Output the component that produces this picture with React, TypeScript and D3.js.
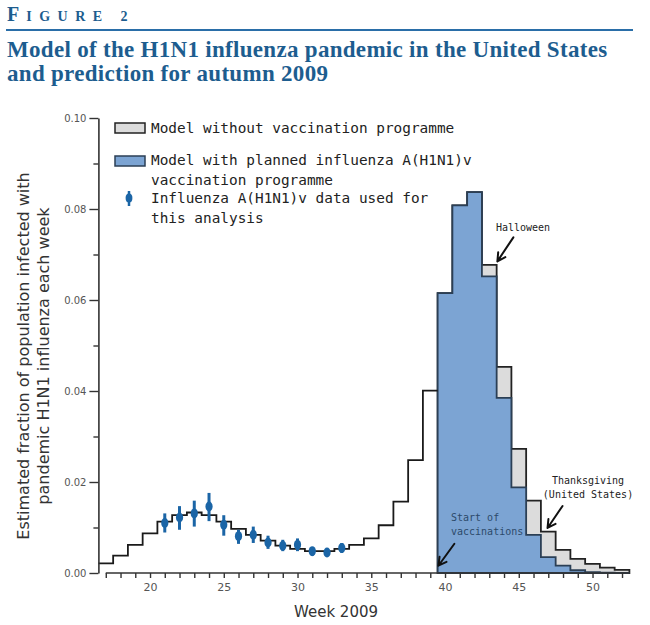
import { useEffect, useRef } from 'react';
import * as d3 from 'd3';

// weekly model output, weeks 17-52 of 2009
const weeks = [17, 18, 19, 20, 21, 22, 23, 24, 25, 26, 27, 28, 29, 30, 31, 32, 33, 34, 35, 36, 37, 38, 39, 40, 41, 42, 43, 44, 45, 46, 47, 48, 49, 50, 51, 52];
const noVaccination = [
  0.0021, 0.0038, 0.0062, 0.0087, 0.0113, 0.0127, 0.0133, 0.0127, 0.0113, 0.0097, 0.0084, 0.0071,
  0.006, 0.0053, 0.0048, 0.0048, 0.0053, 0.0062, 0.0076, 0.0105, 0.0157, 0.0248, 0.0401, 0.0615,
  0.0808, 0.0837, 0.0677, 0.0453, 0.0273, 0.0159, 0.0091, 0.0051, 0.0031, 0.002, 0.0012, 0.0007,
];
const vaccinationWeeks = [40, 41, 42, 43, 44, 45, 46, 47, 48, 49, 50, 51, 52];
const withVaccination = [0.0615, 0.0808, 0.0837, 0.0652, 0.0385, 0.0188, 0.0084, 0.0035, 0.0016, 0.0006, 0.0002, 0.0001, 0];

// surveillance data with error bars
const dataWeeks = [21, 22, 23, 24, 25, 26, 27, 28, 29, 30, 31, 32, 33];
const dataValues = [0.011, 0.0122, 0.0131, 0.0146, 0.0106, 0.0081, 0.0084, 0.0067, 0.006, 0.0062, 0.0048, 0.0045, 0.0055];
const dataLow = [0.0089, 0.0095, 0.0102, 0.0114, 0.0082, 0.0064, 0.0066, 0.0053, 0.0048, 0.0048, 0.0038, 0.0037, 0.0044];
const dataHigh = [0.0131, 0.0147, 0.0159, 0.0176, 0.0127, 0.0095, 0.0102, 0.0082, 0.0073, 0.0076, 0.0056, 0.0053, 0.0066];

const yMajorTicks = [0, 0.02, 0.04, 0.06, 0.08, 0.1];
const yMinorTicks = [0.01, 0.03, 0.05, 0.07, 0.09];
const xLabelTicks = [20, 25, 30, 35, 40, 45, 50];

const BLUE = '#1d5d8f';
const MONO = '"DejaVu Sans Mono", monospace';
const SANS = '"DejaVu Sans", sans-serif';
const SERIF = '"Liberation Serif", serif';

export default function App() {
  const svgRef = useRef<SVGSVGElement>(null);

  useEffect(() => {
    if (!svgRef.current) return;
    const svg = d3.select(svgRef.current);
    svg.selectAll('*').remove();

    // Header
    const fig = svg.append('text')
      .attr('x', 7).attr('y', 21)
      .attr('fill', BLUE)
      .style('font-family', SERIF)
      .style('font-weight', 'bold');
    fig.append('tspan').attr('font-size', 20).attr('letter-spacing', 7).text('F');
    fig.append('tspan').attr('font-size', 14).attr('letter-spacing', 7.5).text('IGURE 2');

    svg.append('line')
      .attr('x1', 6).attr('x2', 633).attr('y1', 30).attr('y2', 30)
      .attr('stroke', '#2a6ea8').attr('stroke-width', 2);

    ['Model of the H1N1 influenza pandemic in the United States', 'and prediction for autumn 2009'].forEach((t, i) => {
      svg.append('text')
        .attr('x', 7).attr('y', 57 + i * 24)
        .attr('fill', BLUE)
        .style('font-family', SERIF)
        .style('font-weight', 'bold')
        .style('font-size', '23px')
        .style('letter-spacing', '0.3px')
        .text(t);
    });

    const x = d3.scaleLinear().domain([16.5, 52.5]).range([98.4, 629.4]);
    const y = d3.scaleLinear().domain([0, 0.1]).range([573, 118]);

    const steps = (ws: number[], vs: number[]) =>
      ws.flatMap((w, i) => [[w - 0.5, vs[i]], [w + 0.5, vs[i]]] as [number, number][]);

    const area = d3.area<[number, number]>()
      .x((d) => x(d[0]))
      .y0(y(0))
      .y1((d) => y(d[1]));
    const line = d3.line<[number, number]>()
      .x((d) => x(d[0]))
      .y((d) => y(d[1]));

    // Model without vaccination from week 40 (grey), with vaccination on top (blue)
    const lateWeeks = weeks.filter((w) => w >= 40);
    const lateNoVacc = noVaccination.filter((_, i) => weeks[i] >= 40);
    svg.append('path')
      .attr('d', area(steps(lateWeeks, lateNoVacc)))
      .attr('fill', '#dcdcdc')
      .attr('stroke', '#222')
      .attr('stroke-width', 1.8);

    svg.append('path')
      .attr('d', area(steps(vaccinationWeeks, withVaccination)))
      .attr('fill', '#7ca4d3')
      .attr('stroke', '#2b3f55')
      .attr('stroke-width', 1.8);

    const earlyWeeks = weeks.filter((w) => w < 40);
    const earlyVals = noVaccination.filter((_, i) => weeks[i] < 40);
    svg.append('path')
      .attr('d', line(steps(earlyWeeks, earlyVals)))
      .attr('fill', 'none')
      .attr('stroke', '#1a1a1a')
      .attr('stroke-width', 1.8);

    // Axes
    const yAxis = svg.append('g')
      .attr('transform', `translate(${x(16.5)},0)`)
      .call(d3.axisLeft(y).tickValues(yMajorTicks).tickSize(9).tickPadding(3).tickSizeOuter(0).tickFormat(d3.format('.2f')));
    yAxis.select('.domain').attr('stroke', '#333').attr('stroke-width', 1.6);
    yAxis.selectAll('line').attr('stroke', '#333').attr('stroke-width', 1.4);
    yAxis.selectAll('text').attr('fill', '#555').style('font-family', SANS).style('font-size', '10px');

    const yMinor = svg.append('g')
      .attr('transform', `translate(${x(16.5)},0)`)
      .call(d3.axisLeft(y).tickValues(yMinorTicks).tickSize(5).tickFormat(() => ''));
    yMinor.select('.domain').remove();
    yMinor.selectAll('line').attr('stroke', '#333').attr('stroke-width', 1.4);

    const xAxis = svg.append('g')
      .attr('transform', `translate(0,${y(0)})`)
      .call(
        d3.axisBottom(x)
          .tickValues(weeks)
          .tickSize(5)
          .tickPadding(5)
          .tickFormat((d) => (xLabelTicks.includes(d as number) ? String(d) : ''))
      );
    xAxis.select('.domain').remove();
    xAxis.selectAll('line').attr('stroke', '#333').attr('stroke-width', 1.4);
    xAxis.selectAll('text').attr('fill', '#555').style('font-family', SANS).style('font-size', '11px');
    svg.append('line')
      .attr('x1', x(17)).attr('x2', x(52.5))
      .attr('y1', y(0)).attr('y2', y(0))
      .attr('stroke', '#333').attr('stroke-width', 1.6);

    svg.append('text')
      .attr('x', 336).attr('y', 617)
      .attr('text-anchor', 'middle')
      .attr('fill', '#333')
      .style('font-family', SANS)
      .style('font-size', '15px')
      .text('Week 2009');

    ['Estimated fraction of population infected with', 'pandemic H1N1 influenza each week'].forEach((t, i) => {
      svg.append('text')
        .attr('transform', `translate(${29 + i * 20},356) rotate(-90)`)
        .attr('text-anchor', 'middle')
        .attr('fill', '#333')
        .style('font-family', SANS)
        .style('font-size', '16px')
        .text(t);
    });

    // Data points with error bars
    const pts = svg.append('g');
    dataWeeks.forEach((w, i) => {
      pts.append('line')
        .attr('x1', x(w)).attr('x2', x(w))
        .attr('y1', y(dataLow[i])).attr('y2', y(dataHigh[i]))
        .attr('stroke', '#1b65a6').attr('stroke-width', 3);
      pts.append('ellipse')
        .attr('cx', x(w)).attr('cy', y(dataValues[i]))
        .attr('rx', 3.6).attr('ry', 5)
        .attr('fill', '#1b65a6');
    });

    // Legend
    const lg = svg.append('g').style('font-family', MONO).style('font-size', '14.4px').attr('fill', '#222');
    lg.append('rect').attr('x', 115).attr('y', 123).attr('width', 30).attr('height', 10)
      .attr('fill', '#dcdcdc').attr('stroke', '#222').attr('stroke-width', 1.5);
    lg.append('text').attr('x', 151).attr('y', 133).text('Model without vaccination programme');
    lg.append('rect').attr('x', 115).attr('y', 156).attr('width', 30).attr('height', 10)
      .attr('fill', '#7ca4d3').attr('stroke', '#2b3f55').attr('stroke-width', 1.5);
    lg.append('text').attr('x', 151).attr('y', 165).text('Model with planned influenza A(H1N1)v');
    lg.append('text').attr('x', 151).attr('y', 185).text('vaccination programme');
    lg.append('line').attr('x1', 129).attr('x2', 129).attr('y1', 191).attr('y2', 206)
      .attr('stroke', '#1b65a6').attr('stroke-width', 2.5);
    lg.append('ellipse').attr('cx', 129).attr('cy', 198).attr('rx', 3.4).attr('ry', 4.6).attr('fill', '#1b65a6');
    lg.append('text').attr('x', 151).attr('y', 203).text('Influenza A(H1N1)v data used for');
    lg.append('text').attr('x', 151).attr('y', 223).text('this analysis');

    // Annotations
    const arrow = (tx: number, ty: number, dx: number, dy: number) => {
      const len = Math.hypot(dx, dy);
      const ux = dx / len, uy = dy / len;
      const hx = -ux * 9, hy = -uy * 9;
      const rot = (a: number) => [hx * Math.cos(a) - hy * Math.sin(a), hx * Math.sin(a) + hy * Math.cos(a)];
      const [ax, ay] = rot(0.5);
      const [bx, by] = rot(-0.5);
      svg.append('path')
        .attr('d', `M${tx - dx},${ty - dy}L${tx},${ty}M${tx + ax},${ty + ay}L${tx},${ty}L${tx + bx},${ty + by}`)
        .attr('fill', 'none').attr('stroke', '#111').attr('stroke-width', 2)
        .attr('stroke-linecap', 'round').attr('stroke-linejoin', 'round');
    };
    const note = svg.append('g').style('font-family', MONO).style('font-size', '10px');

    note.append('text').attr('x', 523).attr('y', 231).attr('text-anchor', 'middle').attr('fill', '#222').text('Halloween');
    arrow(x(43.55), y(0.0685), -16, 24);

    note.append('text').attr('x', 588).attr('y', 484).attr('text-anchor', 'middle').attr('fill', '#222').text('Thanksgiving');
    note.append('text').attr('x', 588).attr('y', 498).attr('text-anchor', 'middle').attr('fill', '#222').text('(United States)');
    arrow(x(46.95), y(0.0099), -15, 22);

    note.append('text').attr('x', 451).attr('y', 521).attr('fill', '#2c4a6a').text('Start of');
    note.append('text').attr('x', 451).attr('y', 535).attr('fill', '#2c4a6a').text('vaccinations');
    arrow(x(39.55), y(0.0016), -16, 22);
  }, []);

  return (
    <svg
      ref={svgRef}
      width={650}
      height={625}
      style={{ position: 'absolute', left: 0, top: 0, background: '#fff' }}
    />
  );
}
